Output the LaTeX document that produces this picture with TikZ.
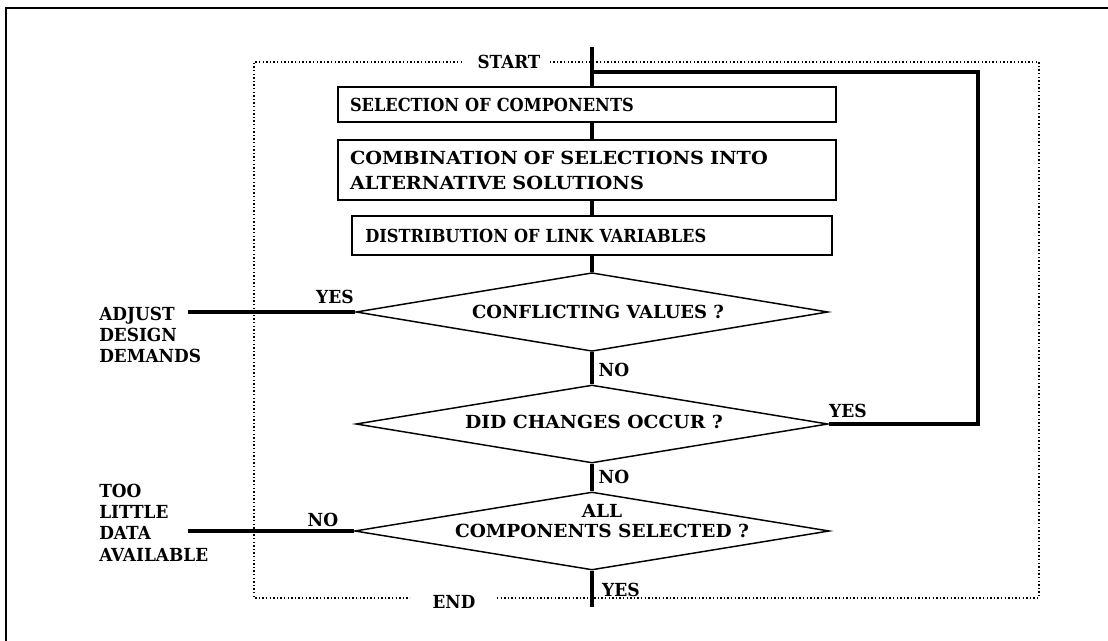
\documentclass[tikz,border=0pt]{standalone}
\usepackage{fontspec}
\setmainfont{DejaVu Serif}
\usetikzlibrary{shapes.geometric}
% bold serif lettering, widened or narrowed per label
\newcommand{\lettering}[2]{\bfseries\fontsize{13.5}{#2}\selectfont\addfontfeature{FakeStretch=#1}}
\begin{document}
\begin{tikzpicture}[x=0.75pt,y=-0.75pt,
  txt/.style={font=\lettering{#1}{18.75pt}},
  stepbox/.style={draw, line width=1.3pt, rectangle, inner ysep=0pt, align=left},
  decision/.style={draw, line width=1.1pt, diamond, inner sep=0pt,
    minimum width=354pt, minimum height=59pt},
  flow/.style={line width=2.3pt},
  side/.style={line width=3pt},
  frame/.style={line width=1.1pt, dash pattern=on 1.1pt off 1.6pt},
  tag/.style={inner sep=0pt, txt=0.95},
  note/.style={inner sep=0pt, align=left, anchor=north west,
    font=\lettering{0.94}{16pt}}]
\useasboundingbox (0,0) rectangle (1108,640);
% outer border of the figure
\draw[line width=1.9pt] (1110,8) -- (6,8) -- (6,642);

% dotted boundary of the procedure
\node[tag, txt=0.93] (start) at (509,62) {START};
\node[tag, txt=0.93] (end) at (454,602) {END};
\draw[frame] (462,62) -- (254,62) -- (254,598) -- (410,598);
\draw[frame] (497,598) -- (1039,598) -- (1039,62) -- (548,62);

% main column
\coordinate (top) at (592,47);
\coordinate (bottom) at (592,607);
\coordinate (fbtop) at (592,72);
\coordinate (fbcorner) at (978,72);

\node[stepbox, txt=0.9, minimum width=373.5pt, minimum height=26.25pt,
  text width=355.5pt, inner xsep=9pt] (b1) at (587,104.5)
  {SELECTION OF COMPONENTS};
\node[stepbox, txt=1.07, minimum width=373.5pt, minimum height=45pt,
  text width=355.5pt, inner xsep=9pt] (b2) at (587,170)
  {COMBINATION OF SELECTIONS INTO\\ALTERNATIVE SOLUTIONS};
\node[stepbox, txt=0.9, minimum width=360pt, minimum height=29.25pt,
  text width=340pt, inner xsep=9pt] (b3) at (592,235.5)
  {DISTRIBUTION OF LINK VARIABLES};

\node[decision] (d1) at (592,312) {};
\node[decision, minimum height=58.5pt] (d2) at (592,424) {};
\node[decision, minimum width=356pt, minimum height=58.5pt] (d3) at (592,531) {};
\node[inner sep=0pt, txt=1.0] at (598,312) {CONFLICTING VALUES ?};
\node[inner sep=0pt, txt=1.04] at (594,422) {DID CHANGES OCCUR ?};
\node[inner sep=0pt, align=center, font=\lettering{1.03}{15pt}] at (602,521)
  {ALL\\COMPONENTS SELECTED ?};

\draw[flow] (top) -- (top |- b1.north);
\draw[flow] (top |- b1.south) -- (top |- b2.north);
\draw[flow] (top |- b2.south) -- (top |- b3.north);
\draw[flow] (b3.south) -- (d1.north);
\draw[flow] (d1.south) -- (d2.north);
\draw[flow] (d2.south) -- (d3.north);
\draw[flow] (d3.south) -- (bottom);
\draw[flow] (fbtop) -- (fbcorner) |- (d2.east);

% side exits
\coordinate (adj) at (188,312);
\coordinate (little) at (188,531);
\draw[side] (d1.west) -- (adj);
\draw[side] (d3.west) -- (little);
\node[note] at (99,306.5) {ADJUST\\DESIGN\\DEMANDS};
\node[note] at (99,483.5) {TOO\\LITTLE\\DATA\\AVAILABLE};

% branch labels
\node[tag] at (335,297) {YES};
\node[tag] at (614,370) {NO};
\node[tag] at (848,411) {YES};
\node[tag] at (614,477) {NO};
\node[tag] at (323,520) {NO};
\node[tag] at (621,590) {YES};
\end{tikzpicture}
\end{document}
